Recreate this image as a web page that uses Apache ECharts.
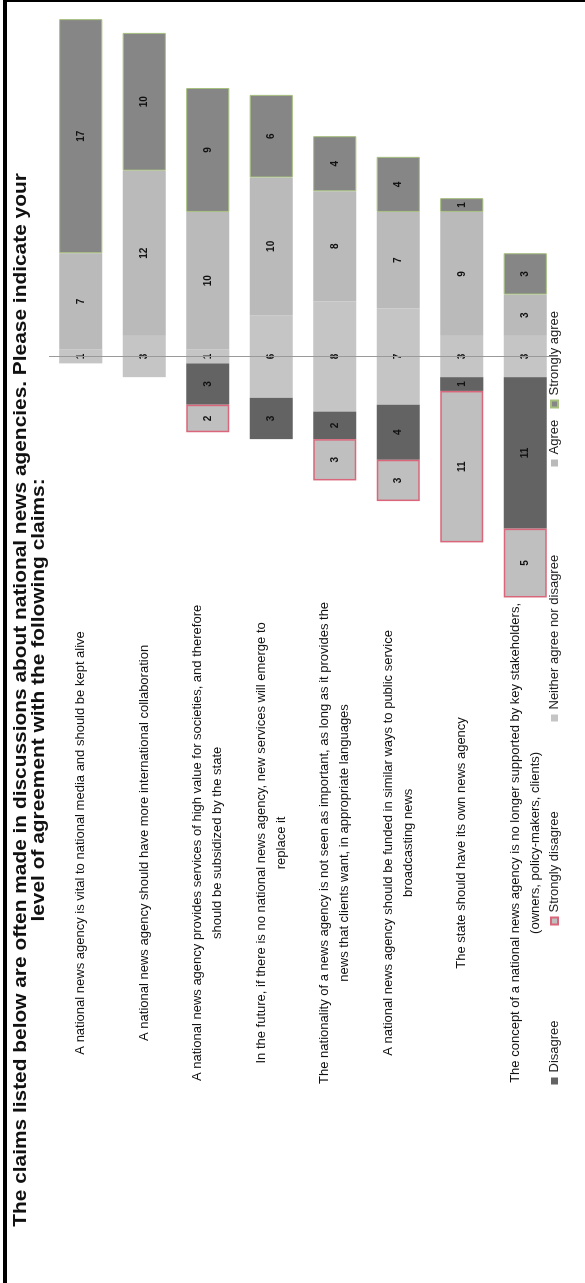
<!DOCTYPE html>
<html>
<head>
<meta charset="utf-8">
<script src="https://cdn.jsdelivr.net/npm/echarts@6/dist/echarts.min.js"></script>
<style>
  html, body { margin: 0; padding: 0; background: #fff; }
  body { width: 585px; height: 1283px; position: relative; overflow: hidden; }
  #chart { position: absolute; left: 0; top: 0; width: 1283px; height: 585px;
           transform-origin: 0 0; transform: translate(0px, 1283px) rotate(-90deg); }
  #frameL { position: absolute; left: 3px; top: 0; width: 4px; height: 1283px; background: #000; }
  #frameT { position: absolute; left: 3px; top: 0; width: 582px; height: 2px; background: #000; }
</style>
</head>
<body>
<div id="chart"></div>
<div id="frameL"></div>
<div id="frameT"></div>
<script>
const titleText = 'The claims listed below are often made in discussions about national news agencies. Please indicate your\nlevel of agreement with the following claims:';
const categories = [
  'A national news agency is vital to national media and should be kept alive',
  'A national news agency should have more international collaboration',
  'A national news agency provides services of high value for societies, and therefore\nshould be subsidized by the state',
  'In the future, if there is no national news agency, new services will emerge to\nreplace it',
  'The nationality of a news agency is not seen as important, as long as it provides the\nnews that clients want, in appropriate languages',
  'A national news agency should be funded in similar ways to public service\nbroadcasting news',
  'The state should have its own news agency',
  'The concept of a national news agency is no longer supported by key stakeholders,\n(owners, policy-makers, clients)'
];
const stronglyDisagree = [0, 0, 2, 0, 3, 3, 11, 5];
const disagree         = [0, 0, 3, 3, 2, 4, 1, 11];
const neutral          = [1, 3, 1, 6, 8, 7, 3, 3];
const agree            = [7, 12, 10, 10, 8, 7, 9, 3];
const stronglyAgree    = [17, 10, 9, 6, 4, 4, 1, 3];
const legendNames = ['Disagree', 'Strongly disagree', 'Neither agree nor disagree', 'Agree', 'Strongly agree'];

const FONT = 'Liberation Sans, Arial, sans-serif';
const chart = echarts.init(document.getElementById('chart'), null, { renderer: 'canvas' });

const valLabel = {
  show: true, position: 'inside', color: '#111', fontFamily: FONT, fontWeight: 'bold', fontSize: 10,
  formatter: p => { const v = Math.abs(p.value); return v ? String(v) : ''; }
};
const neg = arr => arr.map(v => (v ? -v : null));
const pos = arr => arr.map(v => (v ? v : null));
const half = arr => arr.map(v => v / 2);

const legendLefts = [198.5, 357.5, 561.5, 816.5, 874.5];
const legends = legendNames.map((n, i) => ({
  data: [n], left: legendLefts[i], top: 548, itemWidth: 7, itemHeight: 7, icon: 'rect',
  padding: 0, textStyle: { fontFamily: FONT, fontSize: 13, color: '#222' }
}));

chart.setOption({
  animation: false,
  backgroundColor: '#fff',
  graphic: [{
    type: 'text', x: 583, y: 12, scaleX: 1.16, silent: true,
    style: { text: titleText, fontFamily: FONT, fontWeight: 'bold', fontSize: 18, lineHeight: 18,
             align: 'center', verticalAlign: 'top', fill: '#111' }
  }],
  legend: legends,
  grid: { left: 651.1, right: 1283 - 1270.75, top: 49, bottom: 585 - 557,
          containLabel: false, outerBoundsMode: 'none' },
  xAxis: { type: 'value', min: -20, max: 25, show: false, splitLine: { show: false } },
  yAxis: {
    type: 'category', data: categories, inverse: true,
    axisLine: { show: false }, axisTick: { show: false },
    axisLabel: { align: 'center', margin: 211, fontFamily: FONT, fontSize: 13, lineHeight: 20, color: '#111' }
  },
  series: [
    { name: 'Neither agree nor disagree', type: 'bar', stack: 'a', barCategoryGap: '32%',
      data: neg(half(neutral)), itemStyle: { color: '#c5c5c5' }, label: { show: false },
      markLine: { silent: true, symbol: 'none', label: { show: false },
                  lineStyle: { color: '#9a9a9a', width: 1, type: 'solid' }, data: [{ xAxis: 0 }] } },
    { name: 'Disagree', type: 'bar', stack: 'a', data: neg(disagree),
      itemStyle: { color: '#636363' }, label: valLabel },
    { name: 'Strongly disagree', type: 'bar', stack: 'a', data: neg(stronglyDisagree),
      itemStyle: { color: '#bfbfbf', borderColor: '#d9667a', borderWidth: 1.5 }, label: valLabel },
    { name: 'Neither agree nor disagree', type: 'bar', stack: 'a', data: half(neutral),
      itemStyle: { color: '#c5c5c5' },
      label: Object.assign({}, valLabel, { position: [0, '50%'], align: 'center', verticalAlign: 'middle',
        formatter: p => String(neutral[p.dataIndex]) }) },
    { name: 'Agree', type: 'bar', stack: 'a', data: pos(agree),
      itemStyle: { color: '#bababa' }, label: valLabel },
    { name: 'Strongly agree', type: 'bar', stack: 'a', data: pos(stronglyAgree),
      itemStyle: { color: '#868686', borderColor: '#a6bf7e', borderWidth: 1 }, label: valLabel }
  ]
});
</script>
</body>
</html>
